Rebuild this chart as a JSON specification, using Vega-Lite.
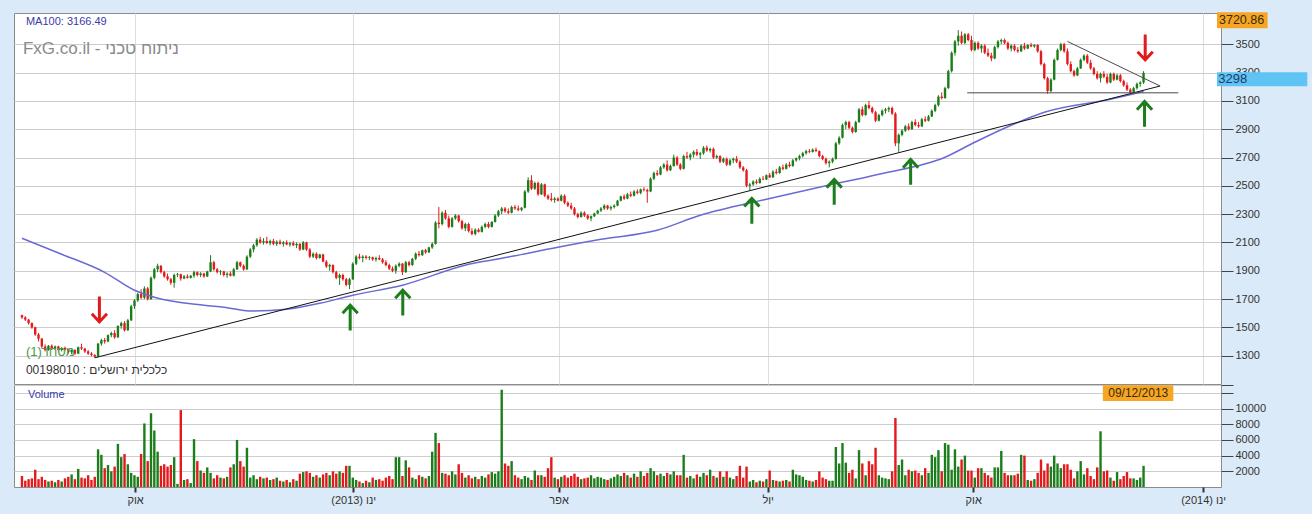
{
"$schema": "https://vega.github.io/schema/vega-lite/v6.json",
"background": "#dbeaf8",
"padding": {"left": 13, "top": 11, "right": 4, "bottom": 8},
"autosize": {"type": "pad"},
"bounds": "flush",
"config": {
  "view": {"fill": "white", "stroke": "#8c8c8c"},
  "font": "Liberation Sans",
  "axis": {"labelFont": "Liberation Sans", "labelFontSize": 11, "labelColor": "#333333", "titleFont": "Liberation Sans", "labelOverlap": false, "tickCount": 30},
  "concat": {"spacing": 1}
},
"datasets": {
"ohlc": [
{"i":0,"o":1585,"h":1590,"l":1560,"c":1570,"v":1400},
{"i":1,"o":1570,"h":1580,"l":1545,"c":1555,"v":800},
{"i":2,"o":1555,"h":1560,"l":1520,"c":1530,"v":1000},
{"i":3,"o":1530,"h":1535,"l":1490,"c":1500,"v":1100},
{"i":4,"o":1500,"h":1505,"l":1440,"c":1450,"v":2200},
{"i":5,"o":1450,"h":1460,"l":1400,"c":1420,"v":1000},
{"i":6,"o":1420,"h":1425,"l":1350,"c":1365,"v":1300},
{"i":7,"o":1365,"h":1380,"l":1330,"c":1340,"v":900},
{"i":8,"o":1340,"h":1375,"l":1335,"c":1370,"v":700},
{"i":9,"o":1370,"h":1380,"l":1340,"c":1350,"v":800},
{"i":10,"o":1350,"h":1372,"l":1345,"c":1365,"v":600},
{"i":11,"o":1365,"h":1370,"l":1330,"c":1340,"v":900},
{"i":12,"o":1340,"h":1360,"l":1330,"c":1355,"v":700},
{"i":13,"o":1355,"h":1365,"l":1335,"c":1345,"v":1100},
{"i":14,"o":1345,"h":1350,"l":1315,"c":1325,"v":1300},
{"i":15,"o":1325,"h":1345,"l":1310,"c":1340,"v":1600},
{"i":16,"o":1340,"h":1345,"l":1305,"c":1315,"v":1000},
{"i":17,"o":1315,"h":1365,"l":1310,"c":1360,"v":2300},
{"i":18,"o":1360,"h":1385,"l":1340,"c":1350,"v":1200},
{"i":19,"o":1350,"h":1355,"l":1320,"c":1330,"v":1100},
{"i":20,"o":1330,"h":1340,"l":1305,"c":1315,"v":1500},
{"i":21,"o":1315,"h":1325,"l":1295,"c":1305,"v":900},
{"i":22,"o":1305,"h":1310,"l":1285,"c":1295,"v":1300},
{"i":23,"o":1295,"h":1390,"l":1290,"c":1385,"v":4800},
{"i":24,"o":1385,"h":1420,"l":1370,"c":1410,"v":4100},
{"i":25,"o":1410,"h":1425,"l":1385,"c":1400,"v":2400},
{"i":26,"o":1400,"h":1450,"l":1395,"c":1445,"v":2800},
{"i":27,"o":1445,"h":1470,"l":1430,"c":1460,"v":2000},
{"i":28,"o":1460,"h":1480,"l":1420,"c":1430,"v":2600},
{"i":29,"o":1430,"h":1515,"l":1425,"c":1510,"v":5500},
{"i":30,"o":1510,"h":1540,"l":1490,"c":1530,"v":3800},
{"i":31,"o":1530,"h":1545,"l":1470,"c":1480,"v":4200},
{"i":32,"o":1480,"h":1560,"l":1475,"c":1550,"v":2900},
{"i":33,"o":1550,"h":1660,"l":1545,"c":1650,"v":1800},
{"i":34,"o":1650,"h":1700,"l":1630,"c":1690,"v":1500},
{"i":35,"o":1690,"h":1745,"l":1680,"c":1735,"v":1300},
{"i":36,"o":1735,"h":1770,"l":1700,"c":1710,"v":4200},
{"i":37,"o":1710,"h":1790,"l":1700,"c":1775,"v":8100},
{"i":38,"o":1775,"h":1785,"l":1690,"c":1700,"v":3300},
{"i":39,"o":1700,"h":1860,"l":1695,"c":1850,"v":9400},
{"i":40,"o":1850,"h":1920,"l":1840,"c":1910,"v":7200},
{"i":41,"o":1910,"h":1950,"l":1890,"c":1935,"v":4500},
{"i":42,"o":1935,"h":1940,"l":1880,"c":1890,"v":2700},
{"i":43,"o":1890,"h":1900,"l":1850,"c":1860,"v":2900},
{"i":44,"o":1860,"h":1880,"l":1830,"c":1840,"v":2600},
{"i":45,"o":1840,"h":1850,"l":1800,"c":1815,"v":2800},
{"i":46,"o":1815,"h":1880,"l":1780,"c":1870,"v":3800},
{"i":47,"o":1870,"h":1885,"l":1855,"c":1875,"v":400},
{"i":48,"o":1875,"h":1880,"l":1830,"c":1845,"v":9800},
{"i":49,"o":1845,"h":1870,"l":1840,"c":1860,"v":900},
{"i":50,"o":1860,"h":1875,"l":1845,"c":1850,"v":1000},
{"i":51,"o":1850,"h":1870,"l":1845,"c":1865,"v":500},
{"i":52,"o":1865,"h":1900,"l":1850,"c":1890,"v":6100},
{"i":53,"o":1890,"h":1895,"l":1860,"c":1870,"v":3300},
{"i":54,"o":1870,"h":1890,"l":1855,"c":1880,"v":2100},
{"i":55,"o":1880,"h":1885,"l":1850,"c":1860,"v":1800},
{"i":56,"o":1860,"h":1900,"l":1855,"c":1895,"v":2500},
{"i":57,"o":1895,"h":2010,"l":1890,"c":1960,"v":1800},
{"i":58,"o":1960,"h":1970,"l":1900,"c":1910,"v":1100},
{"i":59,"o":1910,"h":1920,"l":1880,"c":1890,"v":1500},
{"i":60,"o":1890,"h":1905,"l":1870,"c":1895,"v":1200},
{"i":61,"o":1895,"h":1900,"l":1860,"c":1870,"v":1100},
{"i":62,"o":1870,"h":1890,"l":1850,"c":1880,"v":1300},
{"i":63,"o":1880,"h":1895,"l":1860,"c":1865,"v":2500},
{"i":64,"o":1865,"h":1920,"l":1860,"c":1910,"v":2900},
{"i":65,"o":1910,"h":1970,"l":1905,"c":1960,"v":6000},
{"i":66,"o":1960,"h":1965,"l":1925,"c":1935,"v":3300},
{"i":67,"o":1935,"h":1945,"l":1900,"c":1910,"v":2600},
{"i":68,"o":1910,"h":2010,"l":1905,"c":2000,"v":5000},
{"i":69,"o":2000,"h":2060,"l":1990,"c":2050,"v":1200},
{"i":70,"o":2050,"h":2090,"l":2030,"c":2080,"v":1500},
{"i":71,"o":2080,"h":2130,"l":2070,"c":2120,"v":1000},
{"i":72,"o":2120,"h":2140,"l":2090,"c":2100,"v":1300},
{"i":73,"o":2100,"h":2130,"l":2085,"c":2110,"v":1100},
{"i":74,"o":2110,"h":2140,"l":2090,"c":2095,"v":1200},
{"i":75,"o":2095,"h":2120,"l":2080,"c":2110,"v":900},
{"i":76,"o":2110,"h":2125,"l":2080,"c":2090,"v":1000},
{"i":77,"o":2090,"h":2115,"l":2075,"c":2105,"v":1200},
{"i":78,"o":2105,"h":2120,"l":2085,"c":2090,"v":800},
{"i":79,"o":2090,"h":2110,"l":2070,"c":2100,"v":700},
{"i":80,"o":2100,"h":2115,"l":2080,"c":2085,"v":900},
{"i":81,"o":2085,"h":2105,"l":2070,"c":2095,"v":600},
{"i":82,"o":2095,"h":2110,"l":2075,"c":2080,"v":1000},
{"i":83,"o":2080,"h":2100,"l":2060,"c":2090,"v":800},
{"i":84,"o":2090,"h":2095,"l":2040,"c":2050,"v":1700},
{"i":85,"o":2050,"h":2110,"l":2045,"c":2100,"v":1900},
{"i":86,"o":2100,"h":2105,"l":2040,"c":2050,"v":2000},
{"i":87,"o":2050,"h":2060,"l":1990,"c":2000,"v":1800},
{"i":88,"o":2000,"h":2030,"l":1990,"c":2020,"v":1300},
{"i":89,"o":2020,"h":2030,"l":1980,"c":1990,"v":1500},
{"i":90,"o":1990,"h":2020,"l":1985,"c":2015,"v":1200},
{"i":91,"o":2015,"h":2020,"l":1960,"c":1965,"v":1600},
{"i":92,"o":1965,"h":1975,"l":1920,"c":1930,"v":1800},
{"i":93,"o":1930,"h":1950,"l":1900,"c":1940,"v":1500},
{"i":94,"o":1940,"h":1945,"l":1880,"c":1890,"v":2000},
{"i":95,"o":1890,"h":1900,"l":1840,"c":1850,"v":1700},
{"i":96,"o":1850,"h":1880,"l":1800,"c":1870,"v":2000},
{"i":97,"o":1870,"h":1880,"l":1830,"c":1840,"v":1800},
{"i":98,"o":1840,"h":1850,"l":1790,"c":1800,"v":2700},
{"i":99,"o":1800,"h":1850,"l":1770,"c":1840,"v":2700},
{"i":100,"o":1840,"h":1960,"l":1835,"c":1950,"v":1200},
{"i":101,"o":1950,"h":2010,"l":1940,"c":2000,"v":900},
{"i":102,"o":2000,"h":2020,"l":1980,"c":1990,"v":700},
{"i":103,"o":1990,"h":2010,"l":1960,"c":2000,"v":500},
{"i":104,"o":2000,"h":2010,"l":1980,"c":1990,"v":800},
{"i":105,"o":1990,"h":2005,"l":1975,"c":1995,"v":600},
{"i":106,"o":1995,"h":2000,"l":1970,"c":1980,"v":1200},
{"i":107,"o":1980,"h":2000,"l":1965,"c":1990,"v":900},
{"i":108,"o":1990,"h":2010,"l":1975,"c":1980,"v":1000},
{"i":109,"o":1980,"h":1990,"l":1950,"c":1960,"v":800},
{"i":110,"o":1960,"h":1975,"l":1930,"c":1940,"v":1200},
{"i":111,"o":1940,"h":1950,"l":1905,"c":1915,"v":1400},
{"i":112,"o":1915,"h":1930,"l":1890,"c":1900,"v":1000},
{"i":113,"o":1900,"h":1945,"l":1880,"c":1935,"v":3800},
{"i":114,"o":1935,"h":1960,"l":1925,"c":1950,"v":3800},
{"i":115,"o":1950,"h":1955,"l":1870,"c":1890,"v":1400},
{"i":116,"o":1890,"h":1970,"l":1885,"c":1960,"v":3400},
{"i":117,"o":1960,"h":1970,"l":1930,"c":1940,"v":2500},
{"i":118,"o":1940,"h":1990,"l":1935,"c":1985,"v":1200},
{"i":119,"o":1985,"h":2030,"l":1975,"c":2020,"v":1000},
{"i":120,"o":2020,"h":2040,"l":2000,"c":2010,"v":1500},
{"i":121,"o":2010,"h":2050,"l":2005,"c":2045,"v":1300},
{"i":122,"o":2045,"h":2055,"l":2020,"c":2030,"v":1100},
{"i":123,"o":2030,"h":2070,"l":2025,"c":2065,"v":1400},
{"i":124,"o":2065,"h":2100,"l":2055,"c":2090,"v":4500},
{"i":125,"o":2090,"h":2250,"l":2085,"c":2240,"v":6900},
{"i":126,"o":2240,"h":2350,"l":2200,"c":2230,"v":5600},
{"i":127,"o":2230,"h":2320,"l":2220,"c":2310,"v":1800},
{"i":128,"o":2310,"h":2330,"l":2260,"c":2270,"v":1700},
{"i":129,"o":2270,"h":2290,"l":2200,"c":2210,"v":1500},
{"i":130,"o":2210,"h":2280,"l":2205,"c":2270,"v":2000},
{"i":131,"o":2270,"h":2300,"l":2260,"c":2290,"v":1600},
{"i":132,"o":2290,"h":2295,"l":2240,"c":2250,"v":2900},
{"i":133,"o":2250,"h":2260,"l":2190,"c":2200,"v":1800},
{"i":134,"o":2200,"h":2240,"l":2180,"c":2230,"v":1200},
{"i":135,"o":2230,"h":2240,"l":2170,"c":2180,"v":1500},
{"i":136,"o":2180,"h":2200,"l":2150,"c":2160,"v":1100},
{"i":137,"o":2160,"h":2200,"l":2150,"c":2190,"v":1300},
{"i":138,"o":2190,"h":2200,"l":2170,"c":2175,"v":1000},
{"i":139,"o":2175,"h":2220,"l":2170,"c":2210,"v":1400},
{"i":140,"o":2210,"h":2240,"l":2200,"c":2230,"v":1200},
{"i":141,"o":2230,"h":2245,"l":2200,"c":2210,"v":1600},
{"i":142,"o":2210,"h":2250,"l":2205,"c":2245,"v":1900},
{"i":143,"o":2245,"h":2300,"l":2240,"c":2290,"v":1700},
{"i":144,"o":2290,"h":2330,"l":2280,"c":2320,"v":2000},
{"i":145,"o":2320,"h":2350,"l":2300,"c":2340,"v":12400},
{"i":146,"o":2340,"h":2350,"l":2310,"c":2320,"v":3000},
{"i":147,"o":2320,"h":2340,"l":2300,"c":2310,"v":2700},
{"i":148,"o":2310,"h":2360,"l":2305,"c":2350,"v":3300},
{"i":149,"o":2350,"h":2365,"l":2330,"c":2340,"v":1500},
{"i":150,"o":2340,"h":2360,"l":2320,"c":2330,"v":1200},
{"i":151,"o":2330,"h":2350,"l":2320,"c":2345,"v":1000},
{"i":152,"o":2345,"h":2470,"l":2340,"c":2460,"v":1400},
{"i":153,"o":2460,"h":2560,"l":2450,"c":2540,"v":1200},
{"i":154,"o":2540,"h":2575,"l":2470,"c":2480,"v":900},
{"i":155,"o":2480,"h":2530,"l":2470,"c":2520,"v":2100},
{"i":156,"o":2520,"h":2530,"l":2430,"c":2440,"v":1500},
{"i":157,"o":2440,"h":2520,"l":2435,"c":2510,"v":1500},
{"i":158,"o":2510,"h":2515,"l":2420,"c":2430,"v":1300},
{"i":159,"o":2430,"h":2440,"l":2400,"c":2410,"v":2400},
{"i":160,"o":2410,"h":2450,"l":2390,"c":2400,"v":3800},
{"i":161,"o":2400,"h":2420,"l":2380,"c":2410,"v":1200},
{"i":162,"o":2410,"h":2420,"l":2390,"c":2395,"v":1000},
{"i":163,"o":2395,"h":2440,"l":2390,"c":2430,"v":1300},
{"i":164,"o":2430,"h":2440,"l":2370,"c":2380,"v":1500},
{"i":165,"o":2380,"h":2390,"l":2350,"c":2360,"v":1200},
{"i":166,"o":2360,"h":2380,"l":2330,"c":2340,"v":1400},
{"i":167,"o":2340,"h":2350,"l":2290,"c":2300,"v":1700},
{"i":168,"o":2300,"h":2310,"l":2270,"c":2280,"v":1300},
{"i":169,"o":2280,"h":2320,"l":2275,"c":2310,"v":1000},
{"i":170,"o":2310,"h":2320,"l":2280,"c":2290,"v":1100},
{"i":171,"o":2290,"h":2300,"l":2260,"c":2270,"v":1200},
{"i":172,"o":2270,"h":2290,"l":2250,"c":2285,"v":1500},
{"i":173,"o":2285,"h":2310,"l":2280,"c":2305,"v":1100},
{"i":174,"o":2305,"h":2330,"l":2300,"c":2325,"v":1300},
{"i":175,"o":2325,"h":2350,"l":2315,"c":2340,"v":1200},
{"i":176,"o":2340,"h":2370,"l":2330,"c":2360,"v":1000},
{"i":177,"o":2360,"h":2365,"l":2330,"c":2340,"v":900},
{"i":178,"o":2340,"h":2360,"l":2325,"c":2350,"v":1100},
{"i":179,"o":2350,"h":2370,"l":2340,"c":2360,"v":1300},
{"i":180,"o":2360,"h":2400,"l":2355,"c":2395,"v":1600},
{"i":181,"o":2395,"h":2430,"l":2390,"c":2425,"v":1400},
{"i":182,"o":2425,"h":2440,"l":2400,"c":2410,"v":1800},
{"i":183,"o":2410,"h":2450,"l":2405,"c":2440,"v":1500},
{"i":184,"o":2440,"h":2460,"l":2420,"c":2430,"v":1200},
{"i":185,"o":2430,"h":2470,"l":2425,"c":2460,"v":1700},
{"i":186,"o":2460,"h":2475,"l":2440,"c":2450,"v":1300},
{"i":187,"o":2450,"h":2480,"l":2440,"c":2475,"v":2000},
{"i":188,"o":2475,"h":2490,"l":2460,"c":2470,"v":1400},
{"i":189,"o":2470,"h":2480,"l":2380,"c":2460,"v":1800},
{"i":190,"o":2460,"h":2560,"l":2455,"c":2550,"v":2400},
{"i":191,"o":2550,"h":2600,"l":2540,"c":2590,"v":2000},
{"i":192,"o":2590,"h":2610,"l":2570,"c":2580,"v":1500},
{"i":193,"o":2580,"h":2640,"l":2575,"c":2630,"v":1700},
{"i":194,"o":2630,"h":2660,"l":2620,"c":2650,"v":1400},
{"i":195,"o":2650,"h":2680,"l":2600,"c":2610,"v":1800},
{"i":196,"o":2610,"h":2650,"l":2605,"c":2640,"v":1600},
{"i":197,"o":2640,"h":2720,"l":2635,"c":2700,"v":2000},
{"i":198,"o":2700,"h":2710,"l":2640,"c":2650,"v":1500},
{"i":199,"o":2650,"h":2660,"l":2610,"c":2620,"v":1500},
{"i":200,"o":2620,"h":2720,"l":2615,"c":2710,"v":4100},
{"i":201,"o":2710,"h":2740,"l":2690,"c":2700,"v":1200},
{"i":202,"o":2700,"h":2730,"l":2680,"c":2720,"v":1400},
{"i":203,"o":2720,"h":2750,"l":2700,"c":2740,"v":1100},
{"i":204,"o":2740,"h":2760,"l":2710,"c":2720,"v":1600},
{"i":205,"o":2720,"h":2740,"l":2690,"c":2730,"v":1300},
{"i":206,"o":2730,"h":2780,"l":2720,"c":2770,"v":1800},
{"i":207,"o":2770,"h":2785,"l":2740,"c":2750,"v":1500},
{"i":208,"o":2750,"h":2770,"l":2735,"c":2760,"v":2200},
{"i":209,"o":2760,"h":2770,"l":2690,"c":2700,"v":1400},
{"i":210,"o":2700,"h":2720,"l":2690,"c":2710,"v":1200},
{"i":211,"o":2710,"h":2715,"l":2660,"c":2670,"v":2000},
{"i":212,"o":2670,"h":2700,"l":2660,"c":2690,"v":1300},
{"i":213,"o":2690,"h":2700,"l":2640,"c":2650,"v":2000},
{"i":214,"o":2650,"h":2690,"l":2640,"c":2680,"v":1200},
{"i":215,"o":2680,"h":2700,"l":2660,"c":2690,"v":1000},
{"i":216,"o":2690,"h":2710,"l":2660,"c":2670,"v":1400},
{"i":217,"o":2670,"h":2680,"l":2620,"c":2630,"v":2700},
{"i":218,"o":2630,"h":2640,"l":2600,"c":2610,"v":1200},
{"i":219,"o":2610,"h":2620,"l":2490,"c":2500,"v":2600},
{"i":220,"o":2500,"h":2520,"l":2470,"c":2510,"v":700},
{"i":221,"o":2510,"h":2540,"l":2500,"c":2530,"v":900},
{"i":222,"o":2530,"h":2545,"l":2510,"c":2520,"v":600},
{"i":223,"o":2520,"h":2560,"l":2515,"c":2550,"v":800},
{"i":224,"o":2550,"h":2570,"l":2540,"c":2545,"v":700},
{"i":225,"o":2545,"h":2580,"l":2540,"c":2575,"v":1000},
{"i":226,"o":2575,"h":2590,"l":2555,"c":2560,"v":2100},
{"i":227,"o":2560,"h":2610,"l":2555,"c":2600,"v":900},
{"i":228,"o":2600,"h":2620,"l":2580,"c":2590,"v":800},
{"i":229,"o":2590,"h":2640,"l":2585,"c":2630,"v":700},
{"i":230,"o":2630,"h":2650,"l":2610,"c":2620,"v":800},
{"i":231,"o":2620,"h":2660,"l":2615,"c":2650,"v":900},
{"i":232,"o":2650,"h":2670,"l":2630,"c":2640,"v":700},
{"i":233,"o":2640,"h":2690,"l":2635,"c":2680,"v":2200},
{"i":234,"o":2680,"h":2700,"l":2670,"c":2695,"v":1600},
{"i":235,"o":2695,"h":2720,"l":2680,"c":2710,"v":1500},
{"i":236,"o":2710,"h":2740,"l":2700,"c":2730,"v":1300},
{"i":237,"o":2730,"h":2755,"l":2720,"c":2745,"v":900},
{"i":238,"o":2745,"h":2760,"l":2730,"c":2740,"v":800},
{"i":239,"o":2740,"h":2765,"l":2735,"c":2755,"v":700},
{"i":240,"o":2755,"h":2770,"l":2740,"c":2745,"v":900},
{"i":241,"o":2745,"h":2750,"l":2700,"c":2710,"v":2000},
{"i":242,"o":2710,"h":2720,"l":2680,"c":2690,"v":1200},
{"i":243,"o":2690,"h":2700,"l":2650,"c":2660,"v":1000},
{"i":244,"o":2660,"h":2680,"l":2630,"c":2670,"v":800},
{"i":245,"o":2670,"h":2700,"l":2660,"c":2690,"v":800},
{"i":246,"o":2690,"h":2810,"l":2685,"c":2800,"v":5100},
{"i":247,"o":2800,"h":2850,"l":2790,"c":2840,"v":3000},
{"i":248,"o":2840,"h":2940,"l":2835,"c":2930,"v":5600},
{"i":249,"o":2930,"h":2960,"l":2900,"c":2950,"v":3100},
{"i":250,"o":2950,"h":2960,"l":2900,"c":2910,"v":1800},
{"i":251,"o":2910,"h":2920,"l":2870,"c":2880,"v":2200},
{"i":252,"o":2880,"h":2960,"l":2875,"c":2950,"v":1100},
{"i":253,"o":2950,"h":3050,"l":2945,"c":3040,"v":4700},
{"i":254,"o":3040,"h":3060,"l":2990,"c":3000,"v":3000},
{"i":255,"o":3000,"h":3080,"l":2995,"c":3070,"v":1500},
{"i":256,"o":3070,"h":3100,"l":3040,"c":3050,"v":3300},
{"i":257,"o":3050,"h":3060,"l":3010,"c":3020,"v":2900},
{"i":258,"o":3020,"h":3030,"l":2950,"c":2960,"v":5000},
{"i":259,"o":2960,"h":3010,"l":2955,"c":3000,"v":1500},
{"i":260,"o":3000,"h":3040,"l":2990,"c":3030,"v":1200},
{"i":261,"o":3030,"h":3050,"l":3010,"c":3040,"v":1100},
{"i":262,"o":3040,"h":3060,"l":3020,"c":3050,"v":1000},
{"i":263,"o":3050,"h":3060,"l":3000,"c":3010,"v":2000},
{"i":264,"o":3010,"h":3020,"l":2780,"c":2800,"v":8800},
{"i":265,"o":2800,"h":2870,"l":2740,"c":2860,"v":2800},
{"i":266,"o":2860,"h":2900,"l":2850,"c":2890,"v":3500},
{"i":267,"o":2890,"h":2930,"l":2880,"c":2920,"v":1500},
{"i":268,"o":2920,"h":2940,"l":2890,"c":2900,"v":2200},
{"i":269,"o":2900,"h":2960,"l":2895,"c":2950,"v":2000},
{"i":270,"o":2950,"h":2970,"l":2920,"c":2930,"v":2100},
{"i":271,"o":2930,"h":2950,"l":2910,"c":2920,"v":1800},
{"i":272,"o":2920,"h":2980,"l":2915,"c":2970,"v":1500},
{"i":273,"o":2970,"h":2990,"l":2950,"c":2960,"v":2400},
{"i":274,"o":2960,"h":3000,"l":2955,"c":2990,"v":1800},
{"i":275,"o":2990,"h":3040,"l":2985,"c":3030,"v":4100},
{"i":276,"o":3030,"h":3080,"l":3020,"c":3070,"v":3800},
{"i":277,"o":3070,"h":3140,"l":3060,"c":3130,"v":4700},
{"i":278,"o":3130,"h":3160,"l":3110,"c":3120,"v":2000},
{"i":279,"o":3120,"h":3200,"l":3115,"c":3190,"v":5600},
{"i":280,"o":3190,"h":3320,"l":3185,"c":3310,"v":5400},
{"i":281,"o":3310,"h":3450,"l":3300,"c":3440,"v":2200},
{"i":282,"o":3440,"h":3530,"l":3420,"c":3520,"v":4800},
{"i":283,"o":3520,"h":3600,"l":3490,"c":3560,"v":2600},
{"i":284,"o":3560,"h":3590,"l":3500,"c":3510,"v":3500},
{"i":285,"o":3510,"h":3580,"l":3500,"c":3570,"v":4000},
{"i":286,"o":3570,"h":3580,"l":3520,"c":3530,"v":2100},
{"i":287,"o":3530,"h":3560,"l":3450,"c":3460,"v":2100},
{"i":288,"o":3460,"h":3520,"l":3450,"c":3510,"v":1200},
{"i":289,"o":3510,"h":3520,"l":3460,"c":3470,"v":2400},
{"i":290,"o":3470,"h":3500,"l":3440,"c":3490,"v":2400},
{"i":291,"o":3490,"h":3500,"l":3430,"c":3440,"v":1800},
{"i":292,"o":3440,"h":3470,"l":3410,"c":3420,"v":1500},
{"i":293,"o":3420,"h":3440,"l":3380,"c":3400,"v":1200},
{"i":294,"o":3400,"h":3490,"l":3395,"c":3480,"v":2500},
{"i":295,"o":3480,"h":3530,"l":3470,"c":3520,"v":2500},
{"i":296,"o":3520,"h":3540,"l":3500,"c":3530,"v":4600},
{"i":297,"o":3530,"h":3540,"l":3500,"c":3510,"v":1800},
{"i":298,"o":3510,"h":3520,"l":3460,"c":3470,"v":1500},
{"i":299,"o":3470,"h":3500,"l":3450,"c":3490,"v":1500},
{"i":300,"o":3490,"h":3500,"l":3450,"c":3460,"v":1500},
{"i":301,"o":3460,"h":3480,"l":3440,"c":3450,"v":1700},
{"i":302,"o":3450,"h":3500,"l":3445,"c":3490,"v":4100},
{"i":303,"o":3490,"h":3510,"l":3460,"c":3470,"v":4000},
{"i":304,"o":3470,"h":3500,"l":3465,"c":3495,"v":900},
{"i":305,"o":3495,"h":3510,"l":3480,"c":3485,"v":800},
{"i":306,"o":3485,"h":3500,"l":3475,"c":3495,"v":1000},
{"i":307,"o":3495,"h":3500,"l":3440,"c":3450,"v":1800},
{"i":308,"o":3450,"h":3460,"l":3350,"c":3360,"v":3500},
{"i":309,"o":3360,"h":3370,"l":3250,"c":3260,"v":2100},
{"i":310,"o":3260,"h":3270,"l":3150,"c":3170,"v":3000},
{"i":311,"o":3170,"h":3260,"l":3160,"c":3250,"v":2600},
{"i":312,"o":3250,"h":3400,"l":3245,"c":3390,"v":4000},
{"i":313,"o":3390,"h":3470,"l":3385,"c":3460,"v":3000},
{"i":314,"o":3460,"h":3510,"l":3450,"c":3500,"v":2400},
{"i":315,"o":3500,"h":3510,"l":3440,"c":3450,"v":2900},
{"i":316,"o":3450,"h":3470,"l":3350,"c":3360,"v":2900},
{"i":317,"o":3360,"h":3380,"l":3300,"c":3310,"v":2200},
{"i":318,"o":3310,"h":3320,"l":3270,"c":3280,"v":1100},
{"i":319,"o":3280,"h":3340,"l":3275,"c":3330,"v":2000},
{"i":320,"o":3330,"h":3400,"l":3325,"c":3390,"v":3300},
{"i":321,"o":3390,"h":3430,"l":3380,"c":3420,"v":1600},
{"i":322,"o":3420,"h":3430,"l":3360,"c":3370,"v":2400},
{"i":323,"o":3370,"h":3390,"l":3320,"c":3330,"v":1400},
{"i":324,"o":3330,"h":3340,"l":3280,"c":3290,"v":1000},
{"i":325,"o":3290,"h":3310,"l":3250,"c":3260,"v":2500},
{"i":326,"o":3260,"h":3300,"l":3230,"c":3290,"v":7100},
{"i":327,"o":3290,"h":3310,"l":3260,"c":3270,"v":2000},
{"i":328,"o":3270,"h":3290,"l":3220,"c":3230,"v":2100},
{"i":329,"o":3230,"h":3300,"l":3225,"c":3290,"v":1200},
{"i":330,"o":3290,"h":3300,"l":3240,"c":3250,"v":800},
{"i":331,"o":3250,"h":3290,"l":3245,"c":3280,"v":1900},
{"i":332,"o":3280,"h":3290,"l":3230,"c":3240,"v":1000},
{"i":333,"o":3240,"h":3250,"l":3200,"c":3210,"v":1400},
{"i":334,"o":3210,"h":3230,"l":3170,"c":3180,"v":1900},
{"i":335,"o":3180,"h":3190,"l":3150,"c":3160,"v":1100},
{"i":336,"o":3160,"h":3200,"l":3155,"c":3190,"v":1100},
{"i":337,"o":3190,"h":3230,"l":3180,"c":3220,"v":900},
{"i":338,"o":3220,"h":3240,"l":3200,"c":3230,"v":1200},
{"i":339,"o":3230,"h":3310,"l":3220,"c":3298,"v":2700}
],
"ma": [
{"i":0,"m":2130},{"i":12,"m":2017},{"i":25,"m":1889},{"i":34,"m":1762},{"i":40,"m":1713},{"i":55,"m":1657},{"i":61,"m":1643},{"i":70,"m":1615},{"i":80,"m":1628},{"i":90,"m":1670},{"i":100,"m":1727},{"i":115,"m":1798},{"i":135,"m":1946},{"i":145,"m":1988},{"i":162,"m":2066},{"i":175,"m":2122},{"i":192,"m":2186},{"i":205,"m":2292},{"i":225,"m":2405},{"i":241,"m":2490},{"i":259,"m":2582},{"i":279,"m":2702},{"i":288,"m":2808},{"i":299,"m":2928},{"i":309,"m":3020},{"i":329,"m":3112},{"i":339,"m":3166.49}
],
"lines": [
{"g":"trend","i":22,"p":1285},{"g":"trend","i":344,"p":3205},
{"g":"desc","i":316,"p":3520},{"g":"desc","i":344,"p":3205},
{"g":"horiz","i":285.7,"p":3157},{"g":"horiz","i":349.5,"p":3157}
],
"arrows": [
{"i":23.4,"p":1628,"dir":"down"},
{"i":339.5,"p":3479,"dir":"down"},
{"i":99.2,"p":1568,"dir":"up"},
{"i":115.1,"p":1674,"dir":"up"},
{"i":220.6,"p":2322,"dir":"up"},
{"i":245.5,"p":2456,"dir":"up"},
{"i":268.6,"p":2597,"dir":"up"},
{"i":339.3,"p":3006,"dir":"up"}
]
},
"vconcat": [
{
 "width": 1207, "height": 371,
 "layer": [
  {"data": {"name": "ohlc"}, "mark": {"type": "rule", "strokeWidth": 1},
   "encoding": {
    "x": {"field": "i", "type": "quantitative", "scale": {"domain": [-0.9, 360.9], "nice": false, "zero": false},
      "axis": {"values": [34.2, 100.1, 162.2, 225.4, 287.5, 357], "tickCount": 30, "labels": false, "ticks": false, "domain": false, "grid": true, "gridColor": "#dedede", "title": null}},
    "y": {"field": "l", "type": "quantitative", "scale": {"domain": [1100, 3720.86], "nice": false, "zero": false},
      "axis": {"orient": "right", "values": [1300, 1500, 1700, 1900, 2100, 2300, 2500, 2700, 2900, 3100, 3300, 3500], "tickCount": 30, "format": "d", "labelOverlap": false, "title": null, "grid": true, "gridColor": "#cdcdcd", "tickSize": 12, "tickColor": "#444444", "domain": false, "labelPadding": 2}},
    "y2": {"field": "h"},
    "color": {"condition": {"test": "datum.c >= datum.o", "value": "#1b7d1b"}, "value": "#e3191b"}
   }},
  {"data": {"name": "ohlc"}, "mark": {"type": "bar", "size": 2.4},
   "encoding": {
    "x": {"field": "i", "type": "quantitative"},
    "y": {"field": "o", "type": "quantitative"},
    "y2": {"field": "c"},
    "color": {"condition": {"test": "datum.c >= datum.o", "value": "#1b7d1b"}, "value": "#e3191b"}
   }},
  {"data": {"name": "ma"}, "mark": {"type": "line", "color": "#6a6ad6", "strokeWidth": 1.5, "interpolate": "monotone"},
   "encoding": {"x": {"field": "i", "type": "quantitative"}, "y": {"field": "m", "type": "quantitative"}}},
  {"data": {"name": "lines"}, "mark": {"type": "line", "strokeWidth": 1},
   "encoding": {"x": {"field": "i", "type": "quantitative"}, "y": {"field": "p", "type": "quantitative"}, "detail": {"field": "g"},
    "color": {"condition": {"test": "datum.g == 'trend'", "value": "#111111"}, "value": "#4a4a4a"}}},
  {"data": {"name": "arrows"}, "mark": {"type": "point", "filled": false, "strokeWidth": 3, "size": 640, "opacity": 1},
   "encoding": {"x": {"field": "i", "type": "quantitative"}, "y": {"field": "p", "type": "quantitative"},
    "shape": {"field": "dir", "type": "nominal", "scale": {"domain": ["down", "up"], "range": ["M0,-1L0,1M-0.6,0.35L0,1L0.6,0.35", "M0,1L0,-1M-0.6,-0.35L0,-1L0.6,-0.35"]}, "legend": null},
    "stroke": {"condition": {"test": "datum.dir == 'down'", "value": "#e3191b"}, "value": "#1b7d1b"}}},
  {"data": {"values": [{}]}, "mark": {"type": "text", "align": "left", "baseline": "middle", "fontSize": 11, "color": "#3a3aa8"},
   "encoding": {"x": {"datum": 1.2}, "y": {"datum": 3655}, "text": {"value": "MA100: 3166.49"}}},
  {"data": {"values": [{}]}, "mark": {"type": "text", "align": "left", "baseline": "middle", "fontSize": 17, "color": "#8a8a8a"},
   "encoding": {"x": {"datum": 0.3}, "y": {"datum": 3465}, "text": {"value": "FxG.co.il - ניתוח טכני"}}},
  {"data": {"values": [{}]}, "mark": {"type": "text", "align": "left", "baseline": "middle", "fontSize": 13, "color": "#4c9a4c"},
   "encoding": {"x": {"datum": 1.2}, "y": {"datum": 1328}, "text": {"value": "(1)מסחר"}}},
  {"data": {"values": [{}]}, "mark": {"type": "text", "align": "left", "baseline": "middle", "fontSize": 12, "color": "#333333"},
   "encoding": {"x": {"datum": 1.2}, "y": {"datum": 1201}, "text": {"value": "00198010 : כלכלית ירושלים"}}},
  {"data": {"values": [{}]}, "mark": {"type": "rect", "color": "#f6a623", "clip": false},
   "encoding": {"x": {"datum": 361.2}, "x2": {"datum": 376.5}, "y": {"datum": 3727}, "y2": {"datum": 3614}}},
  {"data": {"values": [{}]}, "mark": {"type": "text", "align": "left", "baseline": "middle", "fontSize": 12.5, "color": "#3a2a10", "clip": false},
   "encoding": {"x": {"datum": 361.8}, "y": {"datum": 3670}, "text": {"value": "3720.86"}}},
  {"data": {"values": [{}]}, "mark": {"type": "rect", "color": "#5fc3f3", "clip": false},
   "encoding": {"x": {"datum": 361.2}, "x2": {"datum": 388.5}, "y": {"datum": 3302}, "y2": {"datum": 3204}}},
  {"data": {"values": [{}]}, "mark": {"type": "text", "align": "left", "baseline": "middle", "fontSize": 13, "color": "#1d3b6b", "clip": false},
   "encoding": {"x": {"datum": 361.6}, "y": {"datum": 3253}, "text": {"value": "3298"}}}
 ]
},
{
 "width": 1207, "height": 102,
 "layer": [
  {"data": {"name": "ohlc"}, "mark": {"type": "bar", "size": 2.4},
   "encoding": {
    "x": {"field": "i", "type": "quantitative", "scale": {"domain": [-0.9, 360.9], "nice": false, "zero": false},
      "axis": {"values": [34.2, 100.1, 162.2, 225.4, 287.5, 357], "tickCount": 30, "labelExpr": "datum.value < 60 ? 'אוק' : datum.value < 130 ? '(2013) ינו' : datum.value < 190 ? 'אפר' : datum.value < 250 ? 'יול' : datum.value < 320 ? 'אוק' : '(2014) ינו'", "labelOverlap": false, "title": null, "grid": false, "tickSize": 5, "tickWidth": 2, "tickColor": "#333333", "domain": false, "labelPadding": 2}},
    "y": {"field": "v", "type": "quantitative", "scale": {"domain": [0, 13000], "nice": false},
      "axis": {"orient": "right", "values": [2000, 4000, 6000, 8000, 10000, 12000, 13000], "tickCount": 30, "format": "d", "labelExpr": "datum.value > 10000 ? '' : datum.label", "labelOverlap": false, "title": null, "grid": true, "gridColor": "#cdcdcd", "tickSize": 12, "tickColor": "#444444", "domain": false, "labelPadding": 2}},
    "color": {"condition": {"test": "datum.c >= datum.o", "value": "#1b7d1b"}, "value": "#e3191b"}
   }},
  {"data": {"values": [{}]}, "mark": {"type": "text", "align": "left", "baseline": "middle", "fontSize": 11, "color": "#3a3aa8"},
   "encoding": {"x": {"datum": 1.8}, "y": {"datum": 11726}, "text": {"value": "Volume"}}},
  {"data": {"values": [{}]}, "mark": {"type": "rect", "color": "#f6a623", "clip": false},
   "encoding": {"x": {"datum": 326.7}, "x2": {"datum": 348.0}, "y": {"datum": 12960}, "y2": {"datum": 10960}}},
  {"data": {"values": [{}]}, "mark": {"type": "text", "align": "center", "baseline": "middle", "fontSize": 12, "color": "#3a2a10"},
   "encoding": {"x": {"datum": 337.4}, "y": {"datum": 11960}, "text": {"value": "09/12/2013"}}}
 ]
}
]
}
